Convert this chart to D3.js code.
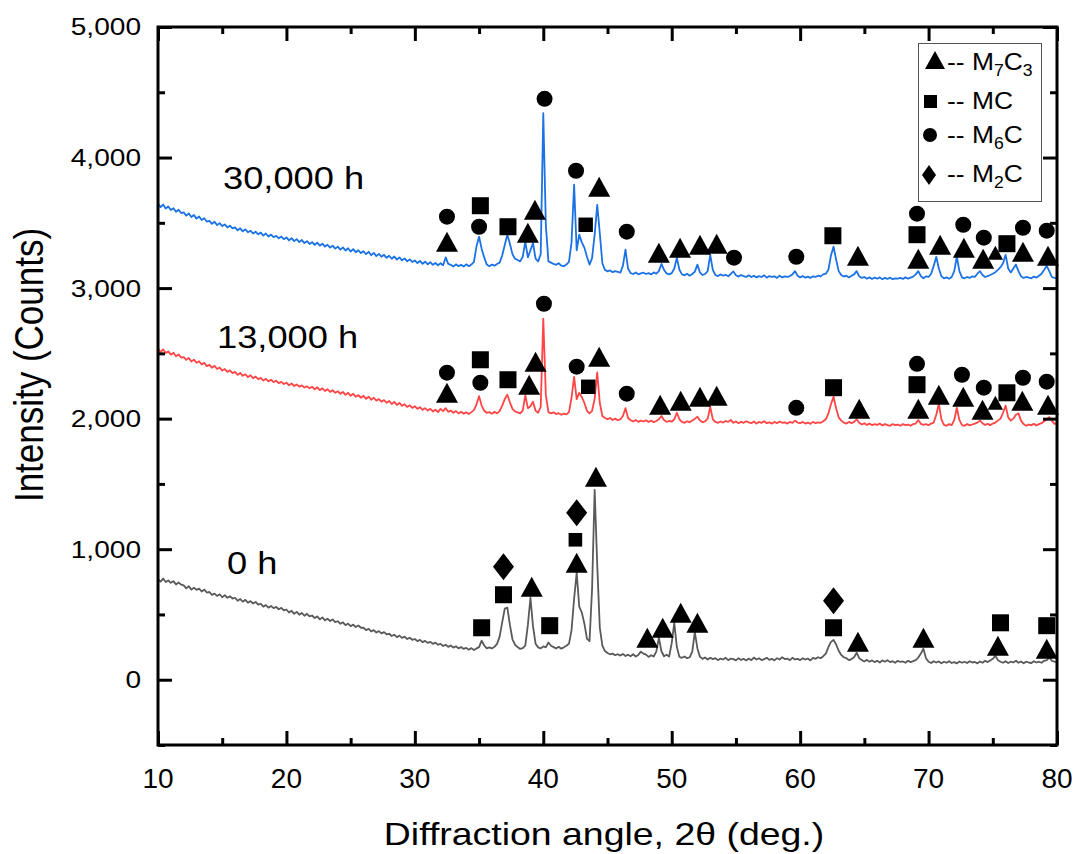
<!DOCTYPE html>
<html>
<head>
<meta charset="utf-8">
<style>
  body { margin: 0; background: #fff; }
  svg text { font-family: "Liberation Sans", Arial, sans-serif; fill: #000; }
</style>
</head>
<body>
<div id="chart"></div>
<script src="https://d3js.org/d3.v7.min.js"></script>
<script>
// XRD scans, one count every 0.2 deg from 10 to 80
const angleStart = 10, angleStep = 0.2;

const counts0h = [
  770, 752, 775, 748, 760, 742, 755, 730, 745, 728,
  722, 700, 716, 690, 705, 688, 698, 676, 690, 668,
  672, 650, 660, 642, 655, 632, 648, 628, 640, 622,
  628, 605, 618, 598, 612, 590, 602, 584, 596, 575,
  582, 560, 572, 552, 565, 548, 558, 540, 550, 532,
  538, 515, 528, 505, 520, 498, 512, 490, 505, 485,
  492, 472, 485, 462, 478, 455, 468, 450, 462, 442,
  448, 428, 440, 418, 430, 410, 422, 404, 415, 398,
  398, 380, 390, 370, 380, 362, 372, 355, 365, 348,
  352, 335, 345, 326, 338, 320, 330, 312, 322, 306,
  312, 296, 305, 288, 298, 282, 290, 275, 284, 268,
  275, 258, 268, 252, 262, 246, 256, 240, 250, 236,
  244, 230, 242, 228, 240, 250, 300, 262, 240, 248,
  240, 252, 275, 330, 440, 545, 552, 420, 310, 268,
  250, 236, 242, 262, 420, 628, 410, 275, 248, 240,
  255, 248, 285, 260, 250, 240, 252, 238, 248, 260,
  275, 380, 620, 820, 560, 515, 430, 315, 295, 700,
  1455, 880, 400, 262, 220, 205, 195, 200, 188, 195,
  185, 198, 182, 192, 180, 195, 178, 190, 215, 200,
  192, 175, 188, 178, 215, 320, 218, 180, 192, 178,
  280, 435, 250, 175, 168, 178, 165, 172, 215, 365,
  240, 175, 160, 170, 155, 168, 158, 165, 150, 162,
  155, 168, 150, 162, 158, 148, 165, 152, 160, 148,
  162, 150, 170, 155, 165, 150, 158, 168, 152, 160,
  148, 165, 155, 172, 158, 162, 150, 168, 155, 160,
  150, 165, 155, 162, 148, 168, 160, 172, 165, 180,
  200, 250, 290, 305, 270, 222, 190, 172, 165, 150,
  158, 172, 207, 165, 150, 140, 152, 138, 148, 135,
  145, 132, 148, 138, 150, 135, 142, 130, 145, 136,
  140, 130, 145, 135, 142, 150, 170, 200, 237, 165,
  138, 128, 142, 132, 140, 126, 138, 130, 142, 128,
  135, 125, 140, 130, 138, 128, 142, 132, 136, 125,
  140, 130, 145, 135, 148, 160, 184, 150, 138, 130,
  142, 128, 138, 132, 145, 130, 140, 126, 138, 132,
  128, 142, 132, 138, 130, 145, 150, 170, 145, 138,
  135
];

const counts13k = [
  2538, 2510, 2530, 2502, 2515, 2490, 2505, 2478, 2492, 2468,
  2472, 2450, 2465, 2438, 2452, 2428, 2440, 2415, 2428, 2402,
  2412, 2390, 2405, 2380, 2392, 2368, 2380, 2358, 2370, 2348,
  2358, 2335, 2350, 2328, 2340, 2318, 2332, 2310, 2322, 2302,
  2312, 2292, 2305, 2285, 2298, 2280, 2290, 2272, 2282, 2265,
  2275, 2255, 2270, 2250, 2262, 2245, 2255, 2238, 2248, 2232,
  2245, 2225, 2240, 2218, 2232, 2212, 2225, 2205, 2218, 2198,
  2210, 2190, 2205, 2182, 2198, 2175, 2190, 2168, 2180, 2160,
  2175, 2152, 2168, 2145, 2160, 2138, 2150, 2130, 2142, 2122,
  2135, 2112, 2128, 2105, 2120, 2098, 2110, 2090, 2102, 2082,
  2095, 2075, 2088, 2068, 2080, 2062, 2075, 2055, 2068, 2050,
  2075, 2058, 2080, 2052, 2062, 2045, 2058, 2040, 2052, 2038,
  2048, 2035, 2050, 2065, 2110, 2172, 2100, 2060, 2045, 2050,
  2038, 2052, 2040, 2058, 2100, 2150, 2183, 2125, 2075, 2055,
  2048, 2040, 2062, 2178, 2080, 2095, 2130, 2060, 2045, 2090,
  2765, 2180, 2050, 2040, 2048, 2035, 2042, 2030, 2038, 2032,
  2050, 2160, 2320, 2150, 2198, 2165, 2120, 2060, 2040, 2060,
  2150, 2355, 2120, 2020, 2005, 1995, 2005, 1990, 2000, 1988,
  1995, 2020, 2080, 2005, 1988, 1978, 1990, 1975, 1985, 1978,
  1988, 1975, 1985, 1972, 1982, 1995, 2020, 1990, 1975, 1982,
  1978, 1995, 2045, 1995, 1975, 1968, 1980, 1972, 1985, 1998,
  2015, 1985, 1972, 1980, 2000, 2090, 1995, 1975, 1968, 1978,
  1970, 1982, 1975, 1990, 1968, 1978, 1965, 1975, 1968, 1980,
  1972, 1965, 1978, 1962, 1975, 1968, 1980, 1965, 1972, 1962,
  1975, 1965, 1978, 1968, 1972, 1962, 1975, 1968, 1985, 1970,
  1965, 1975, 1962, 1970, 1960, 1975, 1965, 1972, 1968, 1980,
  1995, 2040, 2110, 2168, 2080, 2010, 1985, 1970, 1962, 1975,
  1965, 1975, 1995, 1968, 1955, 1965, 1952, 1962, 1950, 1958,
  1952, 1962, 1948, 1958, 1950, 1945, 1958, 1950, 1955, 1945,
  1958, 1950, 1955, 1945, 1958, 1962, 1990, 1960, 1952, 1958,
  1950, 1962, 1970, 2030, 2114, 1995, 1952, 1945, 1958, 1950,
  1990, 2083, 1990, 1950, 1945, 1958, 1948, 1955, 1962, 1970,
  1985, 1965, 1952, 1960, 1950, 1962, 1970, 1985, 2000, 2045,
  2100, 2010, 1985, 2000, 2030, 2040, 1985, 1958, 1945, 1955,
  1950, 1960, 1948, 1958, 1965, 1980, 1995, 2012, 1985, 1960,
  1965
];

const counts30k = [
  3648, 3620, 3640, 3610, 3625, 3598, 3612, 3585, 3600, 3575,
  3580, 3555, 3572, 3545, 3560, 3532, 3548, 3522, 3535, 3510,
  3515, 3492, 3508, 3482, 3498, 3475, 3488, 3465, 3478, 3458,
  3465, 3442, 3458, 3435, 3450, 3428, 3440, 3418, 3432, 3412,
  3425, 3402, 3418, 3395, 3410, 3390, 3400, 3382, 3395, 3375,
  3388, 3365, 3382, 3360, 3375, 3352, 3368, 3345, 3360, 3338,
  3352, 3332, 3348, 3325, 3340, 3318, 3332, 3310, 3325, 3302,
  3318, 3295, 3312, 3288, 3305, 3280, 3298, 3275, 3290, 3268,
  3282, 3260, 3278, 3252, 3270, 3245, 3262, 3240, 3255, 3232,
  3248, 3225, 3242, 3218, 3235, 3212, 3228, 3205, 3220, 3200,
  3212, 3192, 3208, 3186, 3202, 3182, 3198, 3178, 3192, 3175,
  3190, 3175, 3235, 3185, 3178, 3165, 3182, 3168, 3178, 3165,
  3182, 3168, 3180, 3200, 3320, 3393, 3300, 3235, 3180, 3168,
  3180, 3172, 3185, 3195, 3250, 3330, 3409, 3340, 3260, 3225,
  3215, 3205, 3240, 3355, 3235, 3290, 3345, 3225, 3205, 3260,
  4340, 3480, 3205, 3195, 3185, 3178, 3190, 3172, 3168, 3180,
  3200, 3350, 3792, 3290, 3409, 3350, 3310, 3240, 3180, 3230,
  3410, 3638, 3420, 3190, 3140, 3128, 3135, 3122, 3130, 3125,
  3118, 3170, 3294, 3150, 3115, 3108, 3120, 3105, 3112, 3118,
  3108, 3115, 3105, 3120, 3110, 3130, 3185, 3140, 3112, 3105,
  3115, 3150, 3232, 3140, 3105, 3098, 3110, 3095, 3108, 3125,
  3180, 3120, 3100, 3108, 3130, 3255, 3140, 3100, 3092, 3105,
  3095, 3102, 3090, 3108, 3128, 3098, 3088, 3100, 3092, 3085,
  3098, 3085, 3095, 3082, 3092, 3085, 3098, 3080, 3092, 3085,
  3090, 3078, 3095, 3082, 3090, 3085, 3092, 3105, 3130, 3095,
  3082, 3092, 3080, 3088, 3078, 3090, 3085, 3095, 3090, 3105,
  3110, 3140, 3250, 3317, 3220, 3130, 3100, 3088, 3095, 3082,
  3095, 3105, 3130, 3090, 3078, 3085, 3072, 3082, 3070, 3080,
  3072, 3082, 3068, 3078, 3070, 3080, 3068, 3075, 3072, 3078,
  3070, 3082, 3072, 3080, 3088, 3105, 3130, 3092, 3075, 3090,
  3085, 3110, 3170, 3240, 3150, 3090, 3075, 3082, 3072, 3085,
  3130, 3240, 3130, 3082, 3075, 3085, 3078, 3090, 3085, 3110,
  3130, 3100, 3085, 3092, 3100, 3110, 3122, 3140, 3160, 3190,
  3255, 3150, 3120, 3150, 3180, 3130, 3090, 3078, 3085, 3080,
  3075, 3088, 3080, 3095, 3110, 3140, 3170, 3130, 3085, 3078,
  3075
];

const seriesNames = ["0 h", "13,000 h", "30,000 h"];
const seriesCounts = [counts0h, counts13k, counts30k];
const seriesColors = ["#5a5a5a", "#ff4545", "#1b72e4"];

// phase marks: [angle, counts, size factor]
const m7c3Marks = [
  [39.1, 712, 1], [42.6, 896, 1], [44.1, 1555, 1], [48.1, 322, 1], [49.3, 398, 1],
  [50.7, 513, 1], [52.0, 436, 1], [64.5, 291, 1], [69.6, 322, 1], [75.4, 260, 1], [79.2, 237, 1],
  [32.5, 2198, 1], [38.9, 2260, 1], [39.4, 2436, 1], [44.35, 2474, 1], [49.1, 2106, 1],
  [50.7, 2137, 1], [52.2, 2168, 1], [53.5, 2175, 1], [64.6, 2076, 1], [69.2, 2076, 1],
  [70.8, 2183, 1], [72.7, 2168, 1], [74.2, 2068, 1], [75.2, 2122, 0.7], [77.3, 2137, 1], [79.3, 2106, 1],
  [32.5, 3355, 1], [38.8, 3424, 1], [39.35, 3600, 1], [44.35, 3776, 1], [49.0, 3271, 1],
  [50.65, 3309, 1], [52.2, 3332, 1], [53.5, 3340, 1], [64.5, 3248, 1], [69.2, 3225, 1],
  [70.9, 3332, 1], [72.75, 3309, 1], [74.25, 3225, 1], [75.2, 3271, 0.7], [77.35, 3278, 1], [79.3, 3248, 1]
];
const mcMarks = [
  [35.2, 398, 1], [36.9, 651, 1], [40.5, 414, 1], [42.5, 1072, 0.8], [62.6, 398, 1],
  [75.6, 436, 1], [79.2, 414, 1],
  [35.1, 2451, 1], [37.25, 2298, 1], [43.5, 2244, 0.85], [62.6, 2237, 1], [69.1, 2260, 1], [76.1, 2198, 1],
  [35.1, 3631, 1], [37.25, 3470, 1], [43.3, 3485, 0.85], [62.55, 3401, 1], [69.1, 3409, 1], [76.1, 3340, 1]
];
const m6cMarks = [
  [32.5, 2352, 1], [35.1, 2275, 1], [40.05, 2880, 1], [42.6, 2398, 1], [46.5, 2191, 1],
  [59.7, 2083, 1], [69.1, 2420, 1], [72.6, 2336, 1], [74.3, 2237, 1], [77.35, 2313, 1], [79.2, 2283, 1],
  [32.5, 3547, 1], [35.0, 3470, 1], [40.1, 4450, 1], [42.55, 3899, 1], [46.5, 3432, 1],
  [54.85, 3233, 1], [59.7, 3240, 1], [69.1, 3570, 1], [72.7, 3485, 1], [74.3, 3386, 1],
  [77.35, 3462, 1], [79.2, 3440, 1]
];
const m2cMarks = [[36.9, 866, 1], [42.6, 1279, 1], [62.6, 605, 1]];

const legendItems = [["tri", "M", "7", "C", "3"], ["sq", "MC", "", "", ""], ["circ", "M", "6", "C", ""], ["dia", "M", "2", "C", ""]];

const xTicks = [10, 20, 30, 40, 50, 60, 70, 80];
const xMinor = [15, 25, 35, 45, 55, 65, 75];
const yTicks = [0, 1000, 2000, 3000, 4000, 5000];
const yMinor = [-500, 500, 1500, 2500, 3500, 4500];

// ---- drawing ----
const width = 1078, height = 854;
const mLeft = 158, mRight = 1057, mTop = 27, mBottom = 745;
const sx = 1.17; // text in the figure is a little wider than the font

const svg = d3.select("#chart").append("svg")
  .attr("width", width).attr("height", height);

const x = d3.scaleLinear().domain([10, 80]).range([mLeft, mRight]);
const y = d3.scaleLinear().domain([-500, 5000]).range([mBottom, mTop]);

svg.append("clipPath").attr("id", "plotclip")
  .append("rect").attr("x", mLeft).attr("y", mTop)
  .attr("width", mRight - mLeft).attr("height", mBottom - mTop);

const line = d3.line()
  .x((d, i) => x(angleStart + i * angleStep))
  .y(d => y(d));

const traces = svg.append("g").attr("clip-path", "url(#plotclip)");
seriesCounts.forEach((c, k) => {
  traces.append("path")
    .attr("d", line(c))
    .attr("fill", "none")
    .attr("stroke", seriesColors[k])
    .attr("stroke-width", 1.8)
    .attr("stroke-linejoin", "round");
});

// marker shapes
function triPath(w, h) { return `M0,${-h / 2}L${w / 2},${h / 2}L${-w / 2},${h / 2}Z`; }
function diaPath(w, h) { return `M0,${-h / 2}L${w / 2},0L0,${h / 2}L${-w / 2},0Z`; }

const marks = svg.append("g").attr("fill", "#000");
marks.selectAll(".tri").data(m7c3Marks).enter().append("path")
  .attr("d", d => triPath(22 * d[2], 20 * d[2]))
  .attr("transform", d => `translate(${x(d[0])},${y(d[1])})`);
marks.selectAll(".sq").data(mcMarks).enter().append("rect")
  .attr("x", d => x(d[0]) - 8.5 * d[2]).attr("y", d => y(d[1]) - 8.5 * d[2])
  .attr("width", d => 17 * d[2]).attr("height", d => 17 * d[2]);
marks.selectAll(".circ").data(m6cMarks).enter().append("circle")
  .attr("cx", d => x(d[0])).attr("cy", d => y(d[1])).attr("r", d => 8 * d[2]);
marks.selectAll(".dia").data(m2cMarks).enter().append("path")
  .attr("d", d => diaPath(21 * d[2], 27 * d[2]))
  .attr("transform", d => `translate(${x(d[0])},${y(d[1])})`);

// frame and ticks
const tickStyle = g => {
  g.select(".domain").remove();
  g.selectAll(".tick line").attr("stroke", "#000").attr("stroke-width", 3);
};
svg.append("g").attr("transform", `translate(0,${mBottom})`)
  .call(d3.axisBottom(x).tickValues(xTicks).tickSize(-14).tickFormat(""))
  .call(tickStyle);
svg.append("g").attr("transform", `translate(0,${mBottom})`)
  .call(d3.axisBottom(x).tickValues(xMinor).tickSize(-7).tickFormat(""))
  .call(tickStyle);
svg.append("g").attr("transform", `translate(0,${mTop})`)
  .call(d3.axisTop(x).tickValues(xTicks).tickSize(-14).tickFormat(""))
  .call(tickStyle);
svg.append("g").attr("transform", `translate(0,${mTop})`)
  .call(d3.axisTop(x).tickValues(xMinor).tickSize(-7).tickFormat(""))
  .call(tickStyle);
svg.append("g").attr("transform", `translate(${mLeft},0)`)
  .call(d3.axisLeft(y).tickValues(yTicks).tickSize(-14).tickFormat(""))
  .call(tickStyle);
svg.append("g").attr("transform", `translate(${mLeft},0)`)
  .call(d3.axisLeft(y).tickValues(yMinor).tickSize(-7).tickFormat(""))
  .call(tickStyle);
svg.append("g").attr("transform", `translate(${mRight},0)`)
  .call(d3.axisRight(y).tickValues(yTicks).tickSize(-14).tickFormat(""))
  .call(tickStyle);
svg.append("g").attr("transform", `translate(${mRight},0)`)
  .call(d3.axisRight(y).tickValues(yMinor).tickSize(-7).tickFormat(""))
  .call(tickStyle);

svg.append("rect")
  .attr("x", mLeft).attr("y", mTop)
  .attr("width", mRight - mLeft).attr("height", mBottom - mTop)
  .attr("fill", "none").attr("stroke", "#000").attr("stroke-width", 3);

// tick labels
svg.append("g").selectAll("text").data(xTicks).enter().append("text")
  .attr("x", d => x(d)).attr("y", 788)
  .attr("text-anchor", "middle")
  .style("font-size", "28px")
  .text(d => d);
svg.append("g").selectAll("text").data(yTicks).enter().append("text")
  .attr("transform", d => `translate(141,${y(d)}) scale(${sx},1)`)
  .attr("dy", "0.35em")
  .attr("text-anchor", "end")
  .style("font-size", "24px")
  .text(d3.format(","));

// axis titles
svg.append("text")
  .attr("transform", `translate(604,845) scale(${sx},1)`)
  .attr("text-anchor", "middle")
  .style("font-size", "32px")
  .text("Diffraction angle, 2θ (deg.)");
svg.append("text")
  .attr("transform", `translate(43,365) scale(${sx},1) rotate(-90)`)
  .attr("text-anchor", "middle")
  .style("font-size", "35px")
  .text("Intensity (Counts)");

// series labels
const labelXY = [[227, 574], [217, 348], [223, 189]];
seriesNames.forEach((s, k) => {
  svg.append("text")
    .attr("transform", `translate(${labelXY[k][0]},${labelXY[k][1]}) scale(${sx},1)`)
    .style("font-size", "31px")
    .text(s);
});

// legend
const lg = svg.append("g");
lg.append("rect").attr("x", 918.5).attr("y", 43.5).attr("width", 123).attr("height", 158)
  .attr("fill", "#fff").attr("stroke", "#555").attr("stroke-width", 1);
const legendY = [70, 109, 143, 182];
legendItems.forEach((it, k) => {
  const cy = legendY[k] - 8;
  if (it[0] === "tri") lg.append("path").attr("d", triPath(20, 18)).attr("transform", `translate(935,${cy - 2})`);
  if (it[0] === "sq") lg.append("rect").attr("x", 924).attr("y", cy - 6).attr("width", 13).attr("height", 13);
  if (it[0] === "circ") lg.append("circle").attr("cx", 930).attr("cy", cy).attr("r", 7);
  if (it[0] === "dia") lg.append("path").attr("d", diaPath(14, 20)).attr("transform", `translate(929,${cy + 1})`);
  const t = lg.append("text")
    .attr("transform", `translate(947,${legendY[k]}) scale(1.1,1)`)
    .style("font-size", "24px");
  t.append("tspan").text("-- " + it[1]);
  if (it[2]) t.append("tspan").attr("dy", 6).style("font-size", "16px").text(it[2]);
  if (it[3]) t.append("tspan").attr("dy", -6).text(it[3]);
  if (it[4]) t.append("tspan").attr("dy", 6).style("font-size", "16px").text(it[4]);
});
</script>
</body>
</html>
